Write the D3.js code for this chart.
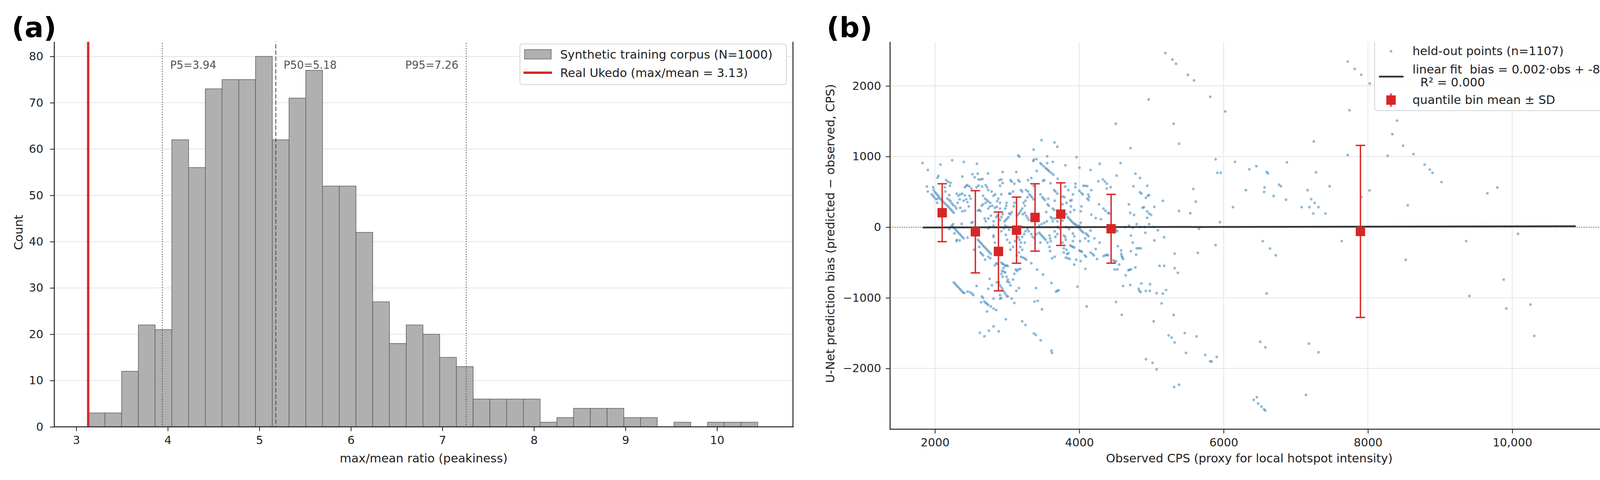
<!DOCTYPE html>
<html>
<head>
<meta charset="utf-8">
<title>Peakiness and prediction bias</title>
<script src="https://cdn.jsdelivr.net/npm/d3@7"></script>
<style>
  body { margin: 0; background: #fff; }
  text { font-family: "DejaVu Sans", sans-serif; }
</style>
</head>
<body>
<script>

// panel (a): histogram of max/mean ratio, 40 equal bins
var binLo = 3.13, binHi = 10.445;
var binCounts = [3, 3, 12, 22, 21, 62, 56, 73, 75, 75, 80, 62, 71, 77, 52, 52, 42, 27, 18, 22,
                 20, 15, 13, 6, 6, 6, 6, 1, 2, 4, 4, 4, 2, 2, 0, 1, 0, 1, 1, 1];
var pctNames = ["P5", "P50", "P95"];
var pctValues = [3.94, 5.18, 7.26];
var realUkedo = 3.13;
var histXTicks = [3, 4, 5, 6, 7, 8, 9, 10];
var histYTicks = [0, 10, 20, 30, 40, 50, 60, 70, 80];

// panel (b): held-out points [observed CPS, bias]
var heldOut = [
  [1828,908],[2076,887],[2238,948],[2400,924],[2582,898],[1902,811],[3154,1018],[3169,998],[3367,1099],[3362,938],[3371,958],
  [2047,727],[2036,700],[2379,717],[2519,751],[2592,757],[2736,761],[2938,781],[3127,781],[2550,707],[2604,676],[2631,676],[2658,682],
  [2155,666],[2180,642],[2216,630],[2207,586],[1888,576],[1901,506],[1975,566],[1982,526],[2000,496],[2018,475],[2036,455],[2054,435],
  [2072,405],[2090,385],[2108,365],[2130,345],[2148,325],[2171,305],[2189,288],[2207,264],[2225,244],[2243,224],[2261,204],[1955,465],
  [1973,445],[1991,421],[2014,395],[2198,455],[2137,566],[2144,506],[2171,405],[2198,385],[2216,365],[2234,335],[2252,314],[2279,294],
  [2297,264],[2030,345],[2039,405],[2301,475],[2324,445],[2351,465],[2379,475],[2415,449],[2478,445],[2496,405],[2433,395],[2397,375],
  [2451,355],[2469,294],[2415,234],[2379,224],[2351,274],[2315,345],[2343,395],[2415,566],[2433,586],[2451,596],[2478,576],[2505,546],
  [2577,566],[2604,590],[2653,576],[2703,596],[2721,566],[2739,526],[2667,445],[2694,405],[2718,385],[2739,365],[2766,345],[2703,345],
  [2667,324],[2646,304],[2613,244],[2595,234],[2631,228],[2739,264],[2761,294],[2794,304],[2812,445],[2785,505],[2833,465],[2862,369],
  [2902,345],[2877,405],[2920,465],[2902,586],[2893,666],[2920,676],[2938,626],[2902,264],[2830,274],[2857,288],[2992,345],[2988,304],
  [2974,264],[3064,646],[3046,666],[3100,616],[3154,666],[3172,646],[3190,526],[3208,505],[3046,475],[3082,505],[3028,475],[3263,526],
  [3290,505],[3308,465],[3326,445],[3344,425],[3362,395],[3281,425],[3254,375],[3245,304],[3227,345],[3209,264],[3191,234],[3172,204],
  [3154,184],[3136,164],[3218,184],[3245,204],[3263,164],[3281,133],[3299,103],[3100,345],[3091,294],[3064,214],[3046,184],[3028,194],
  [3019,143],[3001,123],[2983,103],[2965,83],[2938,184],[2920,143],[2902,103],[2866,164],[2848,143],[2812,83],[2739,123],[2775,164],
  [2689,123],[2812,23],[2703,83],[3335,696],[3290,666],[3367,586],
  [2234,23],[2252,3],[2270,-17],[2288,-37],[2306,-58],[2324,-78],[2343,-98],[2361,-118],[2379,-138],[2397,-158],[2306,-178],[2343,-188],
  [2451,-148],[2252,43],[2216,3],[2370,47],[2198,-27],[2270,-88],[2297,-198],[2505,63],[2523,73],
  [2595,-178],[2613,-198],[2631,-218],[2649,-238],[2667,-259],[2685,-279],[2703,-299],[2721,-319],[2739,-339],[2757,-359],[2775,-379],
  [2613,-279],[2631,-359],[2649,-379],[2667,-399],[2694,-460],[2541,-319],[2739,-419],[2767,-440],[2739,-17],[2812,-118],[2757,3],
  [2812,-138],[2830,-218],[2920,-58],[2956,-17],[2974,23],[3001,3],[3028,-37],[2983,-108],[3001,-178],[3037,-218],[3046,-319],[3082,-279],
  [3109,-198],[3136,-158],[3154,-138],[3172,-178],[3191,-218],[3182,-279],[3209,-319],[3163,-359],[3136,-399],[3191,-419],[3218,-430],
  [3245,-440],[3263,-460],[3281,-27],[3299,-58],[3335,-98],[3353,-138],[3380,-158],[3335,-510],[3209,-138],[3245,-218],[3236,-98],
  [3254,-58],[3209,3],
  [2830,-540],[2848,-510],[2866,-520],[2920,-500],[2938,-520],[2956,-530],[2974,-550],[2992,-540],[3010,-550],[2947,-580],[2929,-620],
  [2956,-630],[2920,-661],[2938,-701],[2974,-641],[2992,-701],[3010,-741],[3028,-781],[3046,-822],[3001,-771],[3082,-741],[3100,-661],
  [3118,-600],[3136,-620],[3154,-600],[3182,-590],[2884,-781],[2902,-822],[2920,-852],[2938,-882],[2956,-912],[2974,-942],[2992,-972],
  [3010,-982],[2920,-1002],[2902,-962],[2857,-781],[2790,-822],[2739,-872],[2757,-731],[3064,-1012],[3100,-1073],[3127,-902],[3163,-862],
  [2649,-982],[2667,-1002],[2685,-1053],[2703,-1073],[2721,-1083],[2739,-1103],[2640,-1063],[2775,-1123],[2812,-1153],[2848,-1173],
  [2721,-1193],[2812,-1012],[2902,-1012],
  [2261,-781],[2279,-801],[2297,-822],[2315,-842],[2334,-862],[2352,-882],[2370,-902],[2388,-922],[2406,-932],[2451,-912],[2487,-922],
  [2514,-942],[2532,-962],[2577,-832],[2983,-1304],[3209,-1334],[3254,-1384],[2812,-1404],[2748,-1465],[2884,-1475],[2622,-1495],
  [2685,-1545],[3371,-1505],[3380,-1053],
  [3476,1233],[3656,1199],[3696,1139],[4710,1119],[3555,1004],[3963,992],[3407,964],[3461,907],[3479,887],[3506,863],[3533,837],
  [3551,823],[3569,807],[3587,787],[3614,767],[3642,743],[3555,907],[3633,924],[3808,877],[3411,797],[3701,686],[3515,666],[3497,656],
  [3602,622],[4002,843],[4156,811],[4282,897],[4571,907],[4517,731],[4778,757],[4841,696],[4264,650],[4327,676],[4354,646],[4381,616],
  [4435,566],[4381,546],[3948,616],[3945,566],[4057,586],[4084,586],[4111,582],[4165,525],[4751,580],[4941,586],
  [3651,525],[3669,505],[3696,475],[3804,576],[3849,525],[3912,465],[4002,515],[4029,485],[4047,465],[4125,461],[4138,429],[4111,405],
  [4129,385],[3461,465],[3488,425],[3506,405],[3524,385],[3569,405],[3578,304],[3560,324],[3660,375],[3768,435],[3795,425],[3876,375],
  [3894,385],[3822,345],[3768,324],[3885,294],[3930,244],[3876,214],[4029,294],[4020,224],[4165,178],[4228,129],[4300,113],[4273,324],
  [4336,264],[4363,234],[4399,204],[4417,194],[4688,324],[4706,204],[4760,174],[4841,495],[4859,475],[4923,415],[4950,445],[4968,455],
  [4877,274],[4895,284],[4941,224],[4968,194],[4995,174],[4941,133],[5040,288],
  [3633,264],[3651,244],[3542,214],[3605,143],[3624,123],[3822,184],[3840,143],[3858,123],[3876,103],[3894,83],[3912,63],[3930,47],
  [3948,39],[3966,23],[3768,93],[3696,83],[3660,123],[3633,83],[3551,83],[3515,63],[3479,43],[3443,23],[3696,3],[3723,-17],[3822,3],
  [3858,-27],[4020,63],[4002,23],[3984,3],[4002,-17],[4020,-41],[4038,-58],[4056,-78],[4156,-47],[4093,-88],[4111,-108],[4129,-128],
  [4508,-37],[4526,-58],[4634,3],[4688,23],[4742,-7],[4796,43],[4841,3],[4905,3],[4968,43],[5031,3],[4914,-78],
  [3443,-78],[3461,-98],[3479,-118],[3497,-138],[3515,-158],[3533,-178],[3587,-118],[3596,-158],[3605,-198],[3660,-58],[3669,-138],
  [3696,-98],[3786,-118],[3804,-138],[3813,-178],[3768,-218],[3560,-218],[3587,-279],[3596,-339],[3461,-218],[3407,-98],
  [3912,-88],[3930,-128],[3912,-198],[3876,-259],[3894,-269],[3912,-279],[3930,-289],[3786,-299],[3822,-319],[3786,-359],[3831,-379],
  [3849,-369],[3813,-430],[3840,-440],[3867,-450],[3624,-440],[3660,-419],[4011,-198],[4084,-158],[4129,-198],[4210,-158],[4282,-218],
  [4002,-329],[4020,-339],[4038,-349],[4075,-399],[4093,-419],[4156,-359],[4183,-379],[4201,-399],[4228,-309],[4246,-450],[3957,-460],
  [3930,-530],[4020,-480],[4084,-590],
  [4336,-409],[4363,-399],[4381,-389],[4399,-399],[4471,-470],[4490,-490],[4508,-480],[4535,-269],[4580,-329],[4580,-379],[4589,-409],
  [4598,-430],[4607,-450],[4553,-530],[4490,-600],[4526,-596],[4643,-681],[4679,-610],[4697,-604],[4715,-596],[4778,-570],[4715,-339],
  [4742,-218],[4715,-118],[4796,-299],[4823,-299],[4850,-299],[4787,-389],
  [3416,-600],[3497,-671],[3614,-791],[3678,-912],[3696,-902],[3714,-892],[3975,-842],[3398,-862],[4607,-832],[4706,-818],[4823,-872],
  [4832,-902],[4850,-918],[4923,-902],[4977,-902],[4859,-797],[4980,-807],[5040,-188],
  [3425,-1043],[3483,-1163],[4102,-1123],[4508,-1059],[4589,-1240],[5031,-1334],[3398,-1525],[3465,-1602],[3614,-1746],
  [5193,2465],[5290,2373],[5341,2314],[5504,2157],[5590,2078],[5814,1846],[4962,1809],[4506,1465],[5307,1465],[5383,1181],
  [5580,542],[5614,361],[5383,230],[5538,197],[5158,372],[5659,-22],[5176,-142],[5089,-44],
  [5113,-546],[5176,-546],[5321,-374],[5642,-363],[5321,-580],[5366,-646],[5072,-934],[5158,-941],[5203,-890],[5141,-1078],
  [5307,-1244],[5238,-1532],[5279,-1561],[5321,-1632],[5462,-1499],[5624,-1547],[5479,-1780],[5745,-1809],[5814,-1898],[5072,-2013],
  [5314,-2263],[5383,-2230],[4924,-1869],[5014,-1920],[3622,-1780],
  [6022,1640],[7720,2345],[7817,2242],[7907,2157],[8025,2034],[7745,1656],[8402,1509],[8338,1317],[8488,1155],[8632,1035],[8273,1011],
  [7720,1021],[7250,1214],[5889,962],[6158,925],[6356,820],[6453,864],[6596,783],[6614,761],[6877,919],[7279,777],[7469,580],
  [6309,525],[6568,564],[6561,499],[6693,442],[6769,602],[6794,580],[6866,389],[7164,525],[7214,398],[7261,344],[7314,284],[7081,284],
  [7189,284],[7243,193],[7411,193],[6130,284],[5950,72],[5914,770],[5961,770],[8022,521],[7907,427],[8553,311],[8786,886],[8858,816],
  [8894,770],[9020,639],[9655,481],[9792,562],[10079,-94],[6543,-197],[7637,-197],[9361,-197],
  [5889,-254],[6643,-303],[6722,-398],[8524,-462],[9881,-741],[6596,-938],[9407,-974],[9917,-1151],[10251,-1096],[10305,-1539],
  [6507,-1623],[6579,-1700],[7182,-1649],[7314,-1771],[5904,-1836],[5835,-1902],[7142,-2374],[6460,-2407],[6417,-2445],[6478,-2496],
  [6525,-2540],[6578,-2595],[6560,-2580]
];
// quantile bins: centre, mean, SD
var qbinX = [2100, 2560, 2880, 3130, 3387, 3743, 4441, 7896];
var qbinMean = [205, -65, -343, -42, 138, 185, -22, -60];
var qbinSD = [410, 582, 558, 468, 477, 443, 487, 1218];
// linear fit end points
var fitX = [1830, 10880];
var fitY = [-4, 14];
var scatXTicks = [2000, 4000, 6000, 8000, 10000];
var scatYTicks = [-2000, -1000, 0, 1000, 2000];

var W = 4140, H = 1228;
var red = "#d62728", blue = "#1f77b4", ink = "#222";

var svg = d3.select("body").append("svg").attr("width", W).attr("height", H);
svg.append("rect").attr("width", W).attr("height", H).attr("fill", "white");

// the figure is cropped just under the panel letters
svg.append("defs").append("clipPath").attr("id", "crop")
    .append("rect").attr("x", 0).attr("y", 107).attr("width", W).attr("height", H - 107);

makeHistogram();
makeScatter();

function styleAxis(ax){
    ax.select(".domain").remove();
    ax.selectAll(".tick line").attr("stroke", ink).attr("stroke-width", 2);
    ax.selectAll(".tick text").attr("fill", ink).attr("font-size", "29px")
        .attr("font-family", "DejaVu Sans");
}

function spines(g, left, right, top, bottom){
    [[left, top, left, bottom], [right, top, right, bottom], [left, bottom, right, bottom]].forEach(function(s){
        g.append("line").attr("x1", s[0]).attr("y1", s[1]).attr("x2", s[2]).attr("y2", s[3])
            .attr("stroke", ink).attr("stroke-width", 2.5).attr("stroke-linecap", "square");
    });
}

function makeHistogram(){
    var left = 139, right = 2030, top = 97, bottom = 1092;
    var x = d3.scaleLinear().domain([2.76, 10.83]).range([left, right]);
    var y = d3.scaleLinear().domain([0, 84]).range([bottom, top]);
    var g = svg.append("g").attr("clip-path", "url(#crop)");

    // grid
    g.selectAll(".hgrid").data(histYTicks).enter().append("line")
        .attr("x1", left).attr("x2", right)
        .attr("y1", function(d){ return y(d); }).attr("y2", function(d){ return y(d); })
        .attr("stroke", "#e9e9e9").attr("stroke-width", 2.5);

    // bars (empty bins skipped)
    var bw = (binHi - binLo) / binCounts.length;
    binCounts.forEach(function(c, i){
        if(c == 0) return;
        g.append("rect")
            .attr("x", x(binLo + i * bw)).attr("width", x(binLo + (i + 1) * bw) - x(binLo + i * bw))
            .attr("y", y(c)).attr("height", bottom - y(c))
            .attr("fill", "#b0b0b0").attr("stroke", "#5e5e5e").attr("stroke-width", 1.5);
    });

    // percentile lines + labels
    pctValues.forEach(function(v, i){
        g.append("line").attr("x1", x(v)).attr("x2", x(v)).attr("y1", top).attr("y2", bottom)
            .attr("stroke", "#444").attr("stroke-width", 2)
            .attr("stroke-dasharray", pctNames[i] == "P50" ? "11,5" : "2.5,4");
        g.append("text")
            .attr("x", pctNames[i] == "P95" ? x(v) - 20 : x(v) + 20)
            .attr("y", y(84 * 0.93)).attr("dy", "0.35em")
            .attr("text-anchor", pctNames[i] == "P95" ? "end" : "start")
            .attr("font-size", "27.5px").attr("fill", "#555")
            .text(pctNames[i] + "=" + v.toFixed(2));
    });

    // real Ukedo
    g.append("line").attr("x1", x(realUkedo)).attr("x2", x(realUkedo)).attr("y1", top).attr("y2", bottom)
        .attr("stroke", red).attr("stroke-width", 6);

    spines(g, left, right, top, bottom);

    // axes
    var xa = svg.append("g").attr("transform", "translate(0," + bottom + ")")
        .call(d3.axisBottom(x).tickValues(histXTicks).tickSize(11).tickPadding(12).tickFormat(d3.format("d")));
    styleAxis(xa);
    var ya = svg.append("g").attr("transform", "translate(" + left + ",0)")
        .call(d3.axisLeft(y).tickValues(histYTicks).tickSize(11).tickPadding(17).tickFormat(d3.format("d")));
    styleAxis(ya);

    svg.append("text").attr("x", (left + right) / 2).attr("y", 1183).attr("text-anchor", "middle")
        .attr("font-size", "30.5px").attr("fill", ink).text("max/mean ratio (peakiness)");
    svg.append("text").attr("transform", "translate(47," + (top + bottom) / 2 + ") rotate(-90)")
        .attr("dy", "0.35em").attr("text-anchor", "middle")
        .attr("font-size", "30.5px").attr("fill", ink).text("Count");

    // legend
    var lg = g.append("g");
    lg.append("rect").attr("x", 1331).attr("y", 112.5).attr("width", 682).attr("height", 104)
        .attr("rx", 6).attr("fill", "white").attr("fill-opacity", 0.85)
        .attr("stroke", "#d4d4d4").attr("stroke-width", 2);
    lg.append("rect").attr("x", 1343).attr("y", 127).attr("width", 68).attr("height", 24)
        .attr("fill", "#b0b0b0").attr("stroke", "#5e5e5e").attr("stroke-width", 1.5);
    lg.append("line").attr("x1", 1340).attr("x2", 1413).attr("y1", 186).attr("y2", 186)
        .attr("stroke", red).attr("stroke-width", 6);
    lg.append("text").attr("x", 1434).attr("y", 139).attr("dy", "0.35em").attr("font-size", "30.5px")
        .attr("fill", ink).text("Synthetic training corpus (N=1000)");
    lg.append("text").attr("x", 1434).attr("y", 186).attr("dy", "0.35em").attr("font-size", "30.5px")
        .attr("fill", ink).text("Real Ukedo (max/mean = " + realUkedo.toFixed(2) + ")");

    svg.append("text").attr("x", 30).attr("y", 95).attr("font-size", "72px").attr("font-weight", "bold")
        .attr("fill", "black").text("(a)");
}

function makeScatter(){
    var left = 2278.6, right = 4118, top = 97, bottom = 1098;
    var x = d3.scaleLinear().domain([1378, 11335]).range([left, right]);
    var y = d3.scaleLinear().domain([-2860, 2680]).range([bottom, top]);
    var g = svg.append("g").attr("clip-path", "url(#crop)");

    // grid
    g.selectAll(".vgrid").data(scatXTicks).enter().append("line")
        .attr("x1", function(d){ return x(d); }).attr("x2", function(d){ return x(d); })
        .attr("y1", top).attr("y2", bottom)
        .attr("stroke", "#e9e9e9").attr("stroke-width", 2.5);
    g.selectAll(".hgrid").data(scatYTicks).enter().append("line")
        .attr("x1", left).attr("x2", right)
        .attr("y1", function(d){ return y(d); }).attr("y2", function(d){ return y(d); })
        .attr("stroke", "#e9e9e9").attr("stroke-width", 2.5);

    // zero reference
    g.append("line").attr("x1", left).attr("x2", right).attr("y1", y(0)).attr("y2", y(0))
        .attr("stroke", "#555").attr("stroke-width", 2).attr("stroke-dasharray", "2,4");

    // points
    g.selectAll(".dot").data(heldOut).enter().append("circle")
        .attr("cx", function(d){ return x(d[0]); })
        .attr("cy", function(d){ return y(d[1]); })
        .attr("r", 3.4)
        .attr("fill", blue).attr("fill-opacity", 0.5);

    // linear fit
    g.append("line").attr("x1", x(fitX[0])).attr("x2", x(fitX[1]))
        .attr("y1", y(fitY[0])).attr("y2", y(fitY[1]))
        .attr("stroke", "#333").attr("stroke-width", 4.5);

    // quantile bin mean +- SD
    qbinX.forEach(function(cx, i){
        var px = x(cx), lo = y(qbinMean[i] - qbinSD[i]), hi = y(qbinMean[i] + qbinSD[i]);
        g.append("line").attr("x1", px).attr("x2", px).attr("y1", lo).attr("y2", hi)
            .attr("stroke", red).attr("stroke-width", 3.5);
        [lo, hi].forEach(function(cy){
            g.append("line").attr("x1", px - 12).attr("x2", px + 12).attr("y1", cy).attr("y2", cy)
                .attr("stroke", red).attr("stroke-width", 3.5);
        });
        g.append("rect").attr("x", px - 12).attr("y", y(qbinMean[i]) - 12)
            .attr("width", 24).attr("height", 24).attr("fill", red);
    });

    spines(g, left, right, top, bottom);

    var xa = svg.append("g").attr("transform", "translate(0," + bottom + ")")
        .call(d3.axisBottom(x).tickValues(scatXTicks).tickSize(11).tickPadding(12)
            .tickFormat(function(d){ return d >= 10000 ? d3.format(",")(d) : d3.format("d")(d); }));
    styleAxis(xa);
    var ya = svg.append("g").attr("transform", "translate(" + left + ",0)")
        .call(d3.axisLeft(y).tickValues(scatYTicks).tickSize(11).tickPadding(12).tickFormat(d3.format("d")));
    styleAxis(ya);

    svg.append("text").attr("x", (left + right) / 2).attr("y", 1183).attr("text-anchor", "middle")
        .attr("font-size", "30.5px").attr("fill", ink).text("Observed CPS (proxy for local hotspot intensity)");
    svg.append("text").attr("transform", "translate(2125," + (top + bottom) / 2 + ") rotate(-90)")
        .attr("dy", "0.35em").attr("text-anchor", "middle")
        .attr("font-size", "30.5px").attr("fill", ink)
        .text("U-Net prediction bias (predicted \u2212 observed, CPS)");

    // legend (top edge falls in the crop)
    var lg = g.append("g");
    lg.append("rect").attr("x", 3519).attr("y", 92).attr("width", 583).attr("height", 191)
        .attr("rx", 6).attr("fill", "white").attr("fill-opacity", 0.85)
        .attr("stroke", "#d4d4d4").attr("stroke-width", 2);
    lg.append("circle").attr("cx", 3561).attr("cy", 131).attr("r", 3.4)
        .attr("fill", blue).attr("fill-opacity", 0.5);
    lg.append("line").attr("x1", 3530).attr("x2", 3593).attr("y1", 196).attr("y2", 196)
        .attr("stroke", "#333").attr("stroke-width", 4.5);
    lg.append("line").attr("x1", 3561).attr("x2", 3561).attr("y1", 239).attr("y2", 273)
        .attr("stroke", red).attr("stroke-width", 3.5);
    lg.append("rect").attr("x", 3549).attr("y", 244).attr("width", 24).attr("height", 24).attr("fill", red);

    var rows = [["held-out points (n=" + 1107 + ")", 3616, 130.5],
                ["linear fit  bias = 0.002\u00b7obs + -8", 3616, 177],
                ["R\u00b2 = 0.000", 3636, 210],
                ["quantile bin mean \u00b1 SD", 3616, 255]];
    rows.forEach(function(r){
        lg.append("text").attr("x", r[1]).attr("y", r[2]).attr("dy", "0.35em")
            .attr("font-size", "30.5px").attr("fill", ink).style("white-space", "pre").text(r[0]);
    });

    svg.append("text").attr("x", 2116).attr("y", 95).attr("font-size", "72px").attr("font-weight", "bold")
        .attr("fill", "black").text("(b)");
}
</script>
</body>
</html>
